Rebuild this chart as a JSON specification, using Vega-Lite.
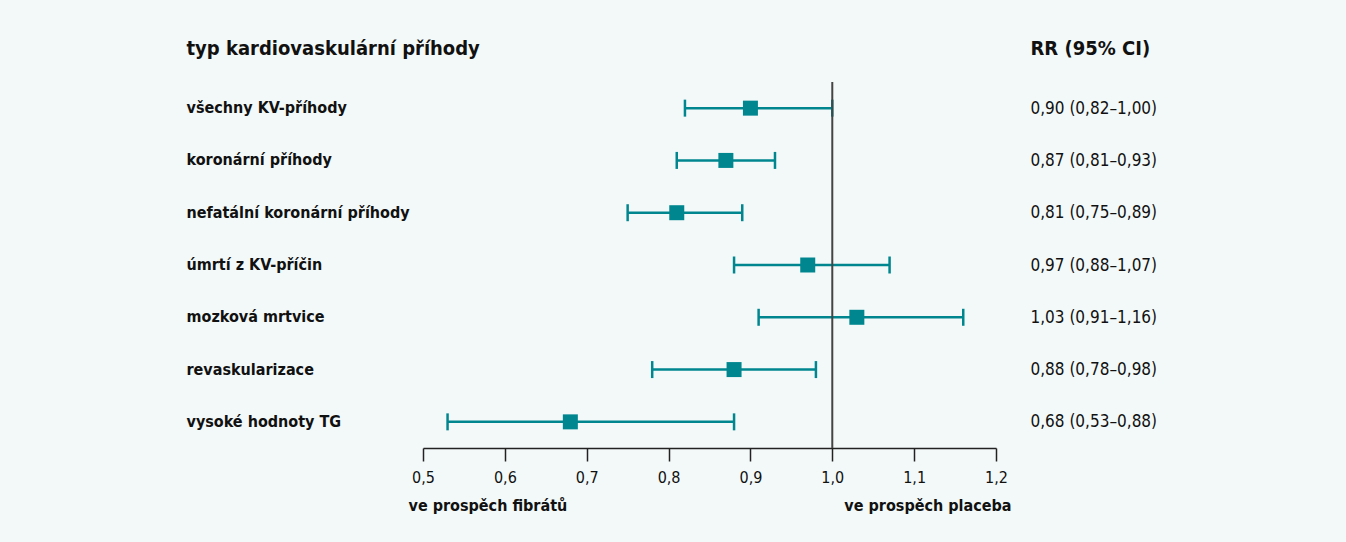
{
  "$schema": "https://vega.github.io/schema/vega-lite/v6.json",
  "width": 573,
  "height": 366,
  "autosize": {"type": "none"},
  "padding": {"left": 423, "top": 82, "right": 350, "bottom": 94},
  "background": "#f3f9f9",
  "config": {
    "font": "Liberation Sans Narrow, DejaVu Sans Condensed, sans-serif",
    "view": {"stroke": null}
  },
  "data": {
    "values": [
      {"label": "všechny KV-příhody", "rr": 0.90, "lo": 0.82, "hi": 1.00, "txt": "0,90 (0,82–1,00)"},
      {"label": "koronární příhody", "rr": 0.87, "lo": 0.81, "hi": 0.93, "txt": "0,87 (0,81–0,93)"},
      {"label": "nefatální koronární příhody", "rr": 0.81, "lo": 0.75, "hi": 0.89, "txt": "0,81 (0,75–0,89)"},
      {"label": "úmrtí z KV-příčin", "rr": 0.97, "lo": 0.88, "hi": 1.07, "txt": "0,97 (0,88–1,07)"},
      {"label": "mozková mrtvice", "rr": 1.03, "lo": 0.91, "hi": 1.16, "txt": "1,03 (0,91–1,16)"},
      {"label": "revaskularizace", "rr": 0.88, "lo": 0.78, "hi": 0.98, "txt": "0,88 (0,78–0,98)"},
      {"label": "vysoké hodnoty TG", "rr": 0.68, "lo": 0.53, "hi": 0.88, "txt": "0,68 (0,53–0,88)"}
    ]
  },
  "resolve": {"scale": {"y": "independent"}, "axis": {"x": "independent", "y": "independent"}},
  "layer": [
    {
      "mark": {"type": "rule", "color": "#00868f", "strokeWidth": 2.5},
      "encoding": {
        "y": {
          "field": "label", "type": "nominal", "sort": null,
          "axis": {
            "orient": "left", "domain": false, "ticks": false, "tickSize": 0,
            "labelAlign": "left", "labelBaseline": "middle", "labelPadding": 237,
            "labelFontSize": 16, "labelFontWeight": "bold", "labelColor": "#111111", "labelLimit": 400,
            "title": "typ kardiovaskulární příhody", "titleAngle": 0, "titleAlign": "left",
            "titleBaseline": "middle", "titleX": -237, "titleY": -34,
            "titleFontSize": 20, "titleFontWeight": "bold", "titleColor": "#111111"
          }
        },
        "x": {
          "field": "lo", "type": "quantitative",
          "scale": {"domain": [0.5, 1.2], "nice": false, "zero": false},
          "axis": {
            "orient": "bottom", "values": [0.5, 0.6, 0.7, 0.8, 0.9, 1.0, 1.1, 1.2],
            "labelExpr": "replace(format(datum.value, '.1f'), '.', ',')",
            "grid": false, "domainColor": "#222222", "domainWidth": 1.5,
            "tickColor": "#222222", "tickWidth": 1.5, "tickSize": 13,
            "labelFontSize": 16, "labelColor": "#111111", "labelPadding": 8, "labelFlush": false,
            "title": "ve prospěch fibrátů", "titleAnchor": "start", "titleAlign": "left",
            "titleBaseline": "middle", "titleX": -15, "titleY": 57,
            "titleFontSize": 16, "titleFontWeight": "bold", "titleColor": "#111111"
          }
        },
        "x2": {"field": "hi"}
      }
    },
    {
      "mark": {"type": "tick", "color": "#00868f", "thickness": 2.5, "size": 17, "orient": "vertical", "opacity": 1},
      "encoding": {
        "y": {"field": "label", "type": "nominal", "sort": null, "axis": null},
        "x": {"field": "lo", "type": "quantitative", "axis": null}
      }
    },
    {
      "mark": {"type": "tick", "color": "#00868f", "thickness": 2.5, "size": 17, "orient": "vertical", "opacity": 1},
      "encoding": {
        "y": {"field": "label", "type": "nominal", "sort": null, "axis": null},
        "x": {"field": "hi", "type": "quantitative", "axis": null}
      }
    },
    {
      "mark": {"type": "point", "shape": "square", "filled": true, "size": 225, "color": "#00868f", "opacity": 1},
      "encoding": {
        "y": {
          "field": "txt", "type": "nominal", "sort": null,
          "axis": {
            "orient": "right", "domain": false, "ticks": false, "tickSize": 0,
            "labelAlign": "left", "labelBaseline": "middle", "labelPadding": 34,
            "labelFontSize": 17, "labelColor": "#111111", "labelLimit": 400,
            "title": "RR (95% CI)", "titleAngle": 0, "titleAlign": "left",
            "titleBaseline": "middle", "titleX": 34, "titleY": -34,
            "titleFontSize": 20, "titleFontWeight": "bold", "titleColor": "#111111"
          }
        },
        "x": {"field": "rr", "type": "quantitative", "axis": null}
      }
    },
    {
      "data": {"values": [{"v": 1.0}]},
      "mark": {"type": "rule", "color": "#444444", "strokeWidth": 2},
      "encoding": {
        "x": {
          "field": "v", "type": "quantitative",
          "axis": {
            "orient": "top", "domain": false, "ticks": false, "labels": false, "grid": false,
            "title": "ve prospěch placeba", "titleAnchor": "end", "titleAlign": "right",
            "titleBaseline": "middle", "titleX": 588, "titleY": 423,
            "titleFontSize": 16, "titleFontWeight": "bold", "titleColor": "#111111"
          }
        }
      }
    }
  ]
}
